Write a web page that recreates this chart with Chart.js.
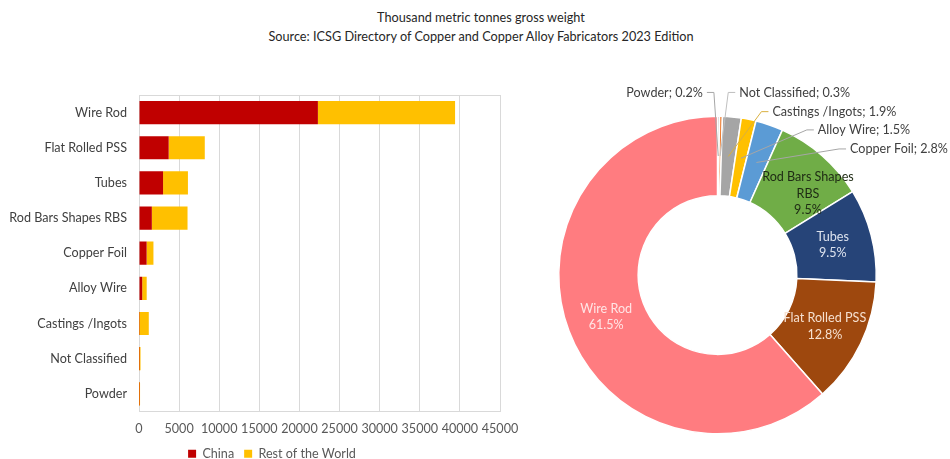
<!DOCTYPE html>
<html>
<head>
<meta charset="utf-8">
<script src="https://cdn.jsdelivr.net/npm/chart.js@4.4.0/dist/chart.umd.min.js"></script>
<style>
    html, body { margin: 0; padding: 0; background: #fff; overflow: hidden; }
    body { width: 950px; height: 459px; position: relative; font-family: Lato, "Open Sans", sans-serif; }
    .title { position: absolute; left: 0; width: 962px; text-align: center; font-size: 12.7px; color: #262626; }
    #barWrap { position: absolute; left: 0; top: 0; }
    #pieWrap { position: absolute; left: 540px; top: 0; }
</style>
</head>
<body>
<div class="title" style="top: 9px;">Thousand metric tonnes gross weight</div>
<div class="title" style="top: 28px;">Source: ICSG Directory of Copper and Copper Alloy Fabricators 2023 Edition</div>
<div id="barWrap"><canvas id="barChart" width="540" height="470"></canvas></div>
<div id="pieWrap"><canvas id="pieChart" width="410" height="459"></canvas></div>

<script>
// Data
const categories = ['Wire Rod', 'Flat Rolled PSS', 'Tubes', 'Rod Bars Shapes RBS', 'Copper Foil',
    'Alloy Wire', 'Castings /Ingots', 'Not Classified', 'Powder'];
const chinaValues = [22300, 3700, 3000, 1600, 950, 400, 20, 10, 10];
const restOfWorldValues = [17100, 4500, 3100, 4450, 850, 560, 1200, 180, 120];
const xTicks = [0, 5000, 10000, 15000, 20000, 25000, 30000, 35000, 40000, 45000];

// Doughnut (share of world total, %), in drawing order clockwise from the top
const pieLabels = ['Powder', 'Not Classified', 'Castings /Ingots', 'Alloy Wire', 'Copper Foil',
    'Rod Bars Shapes RBS', 'Tubes', 'Flat Rolled PSS', 'Wire Rod'];
const pieShares = [0.2, 0.3, 1.9, 1.5, 2.8, 9.5, 9.5, 12.8, 61.5];
const pieColors = ['#7f7f7f', '#ED7D31', '#A5A5A5', '#FFC000', '#5B9BD5', '#70AD47', '#264478', '#9E480E', '#FF7C80'];

const FONT = 'Lato, "Open Sans", sans-serif';
const textGray = '#595959';

// Plot frame for bar chart
const frameBox = {
    id: 'frameBox',
    beforeDatasetsDraw(chart) {
        const { ctx, chartArea: a } = chart;
        ctx.save();
        ctx.strokeStyle = '#D9D9D9';
        ctx.lineWidth = 1;
        ctx.strokeRect(Math.round(a.left) + 0.5, Math.round(a.top) + 0.5,
            Math.round(a.right - a.left), Math.round(a.bottom - a.top));
        ctx.restore();
    }
};

// the legend sits a little right of the plot centre, as in the original
const shiftLegend = {
    id: 'shiftLegend',
    afterLayout(chart) {
        chart.legend.left += 22;
        chart.legend.right += 22;
    }
};

new Chart(document.getElementById('barChart'), {
    type: 'bar',
    data: {
        labels: categories,
        datasets: [
            { label: 'China', data: chinaValues, backgroundColor: '#C00000' },
            { label: 'Rest of the World', data: restOfWorldValues, backgroundColor: '#FFC000' }
        ]
    },
    options: {
        indexAxis: 'y',
        responsive: false,
        devicePixelRatio: 1,
        animation: false,
        barPercentage: 0.66,
        categoryPercentage: 1,
        layout: { padding: { top: 95, left: 0, right: 40, bottom: 0 } },
        plugins: {
            tooltip: { enabled: false },
            legend: {
                position: 'bottom',
                labels: {
                    boxWidth: 8, boxHeight: 8, padding: 10,
                    color: textGray, font: { family: FONT, size: 12.6 }
                }
            }
        },
        scales: {
            x: {
                stacked: true,
                min: 0, max: 45000,
                afterBuildTicks: scale => { scale.ticks = xTicks.map(v => ({ value: v })); },
                afterFit: scale => { scale.height = 26; },
                grid: { color: '#D9D9D9', drawTicks: false },
                border: { display: false },
                ticks: {
                    color: textGray, font: { family: FONT, size: 12.6 }, padding: 10,
                    maxRotation: 0, autoSkip: false, callback: v => String(v)
                }
            },
            y: {
                stacked: true,
                afterFit: scale => { scale.width = 139; },
                grid: { display: false, drawTicks: false },
                border: { display: false },
                ticks: { color: '#404040', font: { family: FONT, size: 12.6 }, padding: 12 }
            }
        }
    },
    plugins: [frameBox, shiftLegend]
});

// Labels for the doughnut
const innerLabelStyle = {
    'Wire Rod': { lines: ['Wire Rod', '61.5%'], color: '#FFE5E5' },
    'Flat Rolled PSS': { lines: ['Flat Rolled PSS', '12.8%'], color: '#F6E0D0' },
    'Tubes': { lines: ['Tubes', '9.5%'], color: '#DDE3EE' },
    'Rod Bars Shapes RBS': { lines: ['Rod Bars Shapes', 'RBS', '9.5%'], color: '#1E2A14', dx: 12, dy: 8 }
};
// outside labels: position relative to the doughnut centre, in units of the outer radius
const outerLabelPos = {
    'Powder': { x: -0.092, y: -1.15, align: 'right', line: '#A6A6A6' },
    'Not Classified': { x: 0.137, y: -1.15, align: 'left', line: '#BFBFBF' },
    'Castings /Ingots': { x: 0.346, y: -1.029, align: 'left', line: '#D9B040' },
    'Alloy Wire': { x: 0.632, y: -0.914, align: 'left', line: '#A6A6A6' },
    'Copper Foil': { x: 0.835, y: -0.794, align: 'left', line: '#A6A6A6' }
};

const doughnutLabels = {
    id: 'doughnutLabels',
    afterDatasetsDraw(chart) {
        const { ctx } = chart;
        const arcs = chart.getDatasetMeta(0).data;
        ctx.save();
        ctx.font = '12.6px ' + FONT;
        ctx.textBaseline = 'middle';
        arcs.forEach((arc, i) => {
            const p = arc.getProps(['x', 'y', 'startAngle', 'endAngle', 'innerRadius', 'outerRadius'], true);
            const name = pieLabels[i];
            const mid = (p.startAngle + p.endAngle) / 2;
            const rMid = (p.innerRadius + p.outerRadius) / 2;
            const ax = p.x + Math.cos(mid) * rMid;
            const ay = p.y + Math.sin(mid) * rMid;
            if (innerLabelStyle[name]) {
                const s = innerLabelStyle[name];
                ctx.fillStyle = s.color;
                ctx.textAlign = 'center';
                const lh = 16.5;
                const top = ay + (s.dy || 0) - (s.lines.length - 1) * lh / 2;
                s.lines.forEach((t, k) => ctx.fillText(t, ax + (s.dx || 0), top + k * lh));
            } else if (outerLabelPos[name]) {
                const o = outerLabelPos[name];
                const lx = p.x + o.x * p.outerRadius;
                const ly = p.y + o.y * p.outerRadius;
                const dir = o.align === 'left' ? -1 : 1;
                ctx.strokeStyle = o.line;
                ctx.lineWidth = 1;
                ctx.beginPath();
                ctx.moveTo(lx + dir * 4, ly);
                ctx.lineTo(lx + dir * 11, ly);
                ctx.lineTo(ax, ay);
                ctx.stroke();
                ctx.fillStyle = '#404040';
                ctx.textAlign = o.align;
                ctx.fillText(name + '; ' + pieShares[i].toFixed(1) + '%', lx, ly);
            }
        });
        ctx.restore();
    }
};

new Chart(document.getElementById('pieChart'), {
    type: 'doughnut',
    data: {
        labels: pieLabels,
        datasets: [{
            data: pieShares,
            backgroundColor: pieColors,
            borderColor: '#ffffff',
            borderWidth: 1.5
        }]
    },
    options: {
        responsive: false,
        devicePixelRatio: 1,
        animation: false,
        cutout: '50%',
        layout: { padding: { left: 18, right: 73, top: 115.5, bottom: 24.5 } },
        plugins: { legend: { display: false }, tooltip: { enabled: false } }
    },
    plugins: [doughnutLabels]
});
</script>
</body>
</html>
